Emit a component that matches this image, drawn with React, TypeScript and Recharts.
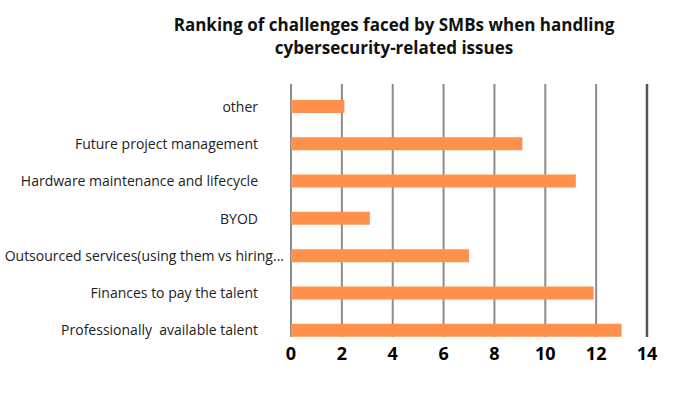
import { BarChart, Bar, XAxis, YAxis, CartesianGrid, ReferenceLine } from 'recharts';

const challenges = [
  'other',
  'Future project management',
  'Hardware maintenance and lifecycle',
  'BYOD',
  'Outsourced services(using them vs hiring...',
  'Finances to pay the talent',
  'Professionally  available talent',
];
const rankScores = [2.1, 9.1, 11.2, 3.1, 7.0, 11.9, 13.0];
const xTicks = [0, 2, 4, 6, 8, 10, 12, 14];

const data = challenges.map((name, i) => ({ name, value: rankScores[i] }));

const FONT = "'Open Sans', sans-serif";

// category labels sit right-aligned left of the plot; the long one runs further right
const CategoryTick = (props: any) => {
  const { x, y, payload } = props;
  const label: string = payload.value;
  const shift = label.length > 40 ? 26 : 0;
  return (
    <text
      x={x - 25 + shift}
      y={y}
      dy={5}
      textAnchor="end"
      fill="#222"
      fontSize={14}
      fontFamily={FONT}
      style={{ whiteSpace: 'pre' }}
    >
      {label}
    </text>
  );
};

const App = () => {
  return (
    <div style={{ position: 'absolute', left: 0, top: 0, width: 700, height: 394, background: '#fff' }}>
      <div
        style={{
          position: 'absolute',
          left: 0,
          top: 13,
          width: 788,
          textAlign: 'center',
          fontFamily: FONT,
          fontWeight: 700,
          fontSize: 17,
          lineHeight: '23px',
          color: '#111',
        }}
      >
        Ranking of challenges faced by SMBs when handling
        <br />
        cybersecurity-related issues
      </div>
      <BarChart
        width={700}
        height={394}
        data={data}
        layout="vertical"
        margin={{ top: 84, right: 53, bottom: 27, left: 0 }}
      >
        <CartesianGrid vertical horizontal={false} stroke="#8c8c8c" strokeWidth={2} />
        <ReferenceLine x={14} stroke="#555" strokeWidth={2.5} />
        <XAxis
          type="number"
          domain={[0, 14]}
          ticks={xTicks}
          axisLine={false}
          tickLine={false}
          tickMargin={4}
          height={30}
          tick={{ fill: '#000', fontSize: 18, fontWeight: 700, fontFamily: FONT }}
          interval={0}
        />
        <YAxis
          type="category"
          dataKey="name"
          width={291}
          axisLine={false}
          tickLine={false}
          interval={0}
          padding={{ top: 4, bottom: -12 }}
          tick={<CategoryTick />}
        />
        <Bar dataKey="value" fill="#FF914D" barSize={13} isAnimationActive={false} />
      </BarChart>
    </div>
  );
};

export default App;
